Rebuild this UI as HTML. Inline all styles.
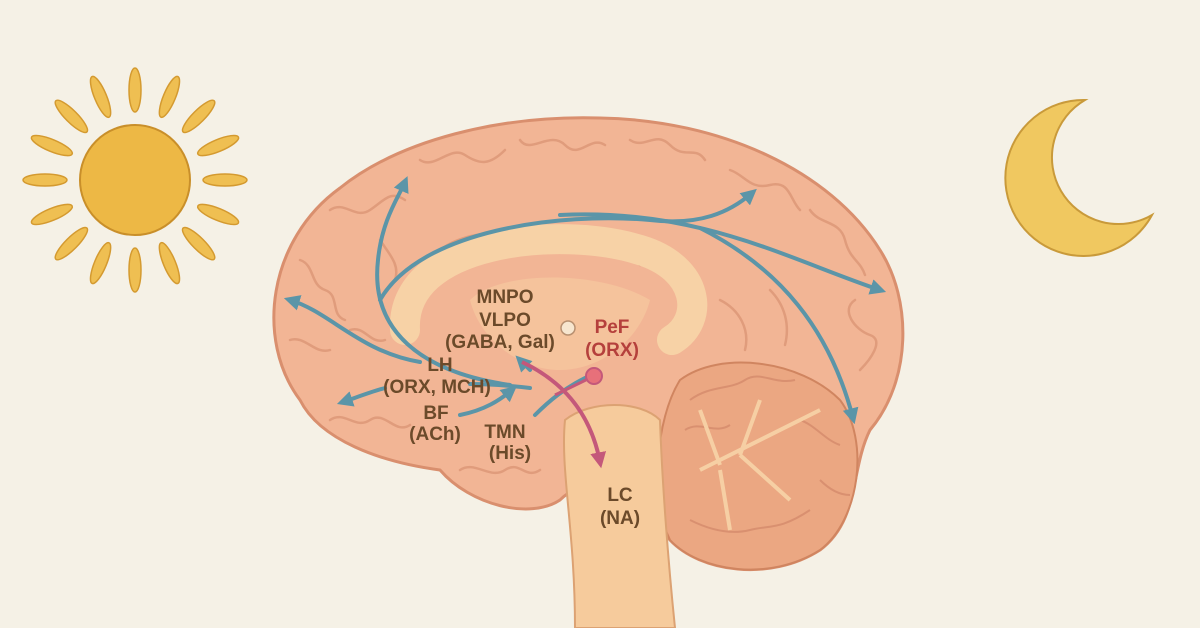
<!DOCTYPE html>
<html><head><meta charset="utf-8"><style>
html,body{margin:0;padding:0;background:#f5f1e6;}
svg{display:block}
text{font-family:"Liberation Sans",sans-serif;font-weight:bold;font-size:19px;fill:#6b4a2a;text-anchor:middle}
</style></head><body>
<svg width="1200" height="628" viewBox="0 0 1200 628" xmlns="http://www.w3.org/2000/svg">
<defs>
<marker id="ab" viewBox="0 0 10 10" refX="6" refY="5" markerWidth="4" markerHeight="4" orient="auto"><path d="M0,0 L10,5 L0,10 Z" fill="#5b95a8"/></marker>
<marker id="ar" viewBox="0 0 10 10" refX="6" refY="5" markerWidth="4" markerHeight="4" orient="auto"><path d="M0,0 L10,5 L0,10 Z" fill="#c4587a"/></marker>
</defs>
<rect width="1200" height="628" fill="#f5f1e6"/>
<!-- sun -->
<g transform="translate(135,180)">
<g fill="#efbf52" stroke="#d49a30" stroke-width="1.5">
<ellipse cx="0" cy="-90" rx="6" ry="22"/><ellipse cx="0" cy="-90" rx="6" ry="22" transform="rotate(22.5)"/>
<ellipse cx="0" cy="-90" rx="6" ry="22" transform="rotate(45)"/><ellipse cx="0" cy="-90" rx="6" ry="22" transform="rotate(67.5)"/>
<ellipse cx="0" cy="-90" rx="6" ry="22" transform="rotate(90)"/><ellipse cx="0" cy="-90" rx="6" ry="22" transform="rotate(112.5)"/>
<ellipse cx="0" cy="-90" rx="6" ry="22" transform="rotate(135)"/><ellipse cx="0" cy="-90" rx="6" ry="22" transform="rotate(157.5)"/>
<ellipse cx="0" cy="-90" rx="6" ry="22" transform="rotate(180)"/><ellipse cx="0" cy="-90" rx="6" ry="22" transform="rotate(202.5)"/>
<ellipse cx="0" cy="-90" rx="6" ry="22" transform="rotate(225)"/><ellipse cx="0" cy="-90" rx="6" ry="22" transform="rotate(247.5)"/>
<ellipse cx="0" cy="-90" rx="6" ry="22" transform="rotate(270)"/><ellipse cx="0" cy="-90" rx="6" ry="22" transform="rotate(292.5)"/>
<ellipse cx="0" cy="-90" rx="6" ry="22" transform="rotate(315)"/><ellipse cx="0" cy="-90" rx="6" ry="22" transform="rotate(337.5)"/>
</g>
<circle r="55" fill="#edb845" stroke="#c98f2a" stroke-width="2"/>
</g>
<!-- moon -->
<path d="M1085,100 A78,78 0 1,0 1152,215 A64,64 0 1,1 1085,100 Z" fill="#f0c860" stroke="#c99a3a" stroke-width="2"/>
<!-- brain -->
<path d="M300,400 C255,340 268,240 340,188 C400,140 500,115 600,118 C720,120 830,170 880,250 C912,300 912,380 870,430 C850,470 860,520 820,550 C770,582 700,572 670,540 L640,500 C610,480 580,480 560,500 C530,520 470,505 440,470 C380,462 320,440 300,400 Z" fill="#f2b595" stroke="#d98f6e" stroke-width="3"/>
<!-- gyri texture -->
<g fill="none" stroke="#e09c7c" stroke-width="2.5" stroke-linecap="round">
<path d="M330,210 c15,-10 25,10 40,0 s20,-20 35,-10"/>
<path d="M420,160 c15,10 30,-15 45,-5 s25,10 40,-5"/>
<path d="M520,140 c10,15 30,-10 45,5 s25,-10 40,0"/>
<path d="M630,140 c15,10 25,-10 40,5 s25,0 35,15"/>
<path d="M730,170 c15,5 20,20 40,15 s20,15 30,25"/>
<path d="M810,210 c10,15 30,10 35,30 s15,20 20,35"/>
<path d="M855,300 c-15,10 0,30 15,35 s0,25 -10,35"/>
<path d="M300,260 c15,5 10,25 25,30 s5,25 20,30"/>
<path d="M290,340 c15,-5 25,15 40,10"/>
<path d="M330,420 c15,-10 25,10 40,0 s25,15 40,5"/>
<path d="M460,470 c15,-10 30,10 45,0 s20,10 35,0"/>
<path d="M440,250 c20,-15 50,-20 80,-15 M560,240 c30,0 60,10 80,25"/>
<path d="M720,300 c20,10 30,30 25,50 M770,290 c15,15 20,35 15,55"/>
<path d="M350,330 c15,-5 20,15 35,10 M380,240 c10,15 20,25 15,40"/>
</g>
<!-- cerebellum -->
<path d="M680,380 C720,350 800,360 840,400 C870,440 860,520 820,550 C770,582 700,572 670,540 C650,500 655,420 680,380 Z" fill="#eba782" stroke="#d08560" stroke-width="2"/>
<g fill="none" stroke="#d99070" stroke-width="2">
<path d="M690,400 c20,-15 40,-10 55,-20 s30,5 50,0 M685,430 c15,-10 30,5 45,-5 M800,420 c15,5 25,20 40,25 M690,520 c20,10 40,15 60,10 s30,0 60,-20 M820,480 c10,10 20,15 30,15"/>
</g>
<g fill="none" stroke="#f6cfa4" stroke-width="4"><path d="M700,470 C740,450 780,430 820,410 M740,455 L760,400 M740,455 L790,500 M720,465 L700,410 M720,470 L730,530"/></g>
<!-- corpus callosum & inner -->
<path d="M405,330 C400,240 560,225 640,250 C700,268 705,320 672,340" fill="none" stroke="#f7d2a6" stroke-width="30" stroke-linecap="round"/>
<path d="M470,300 C500,270 600,270 650,300 C640,340 600,370 560,370 C520,370 480,340 470,300 Z" fill="#f5c39c"/>
<!-- brainstem -->
<path d="M565,420 C560,470 575,530 575,628 L675,628 C668,560 662,480 660,420 C640,400 590,400 565,420 Z" fill="#f6cb9c" stroke="#dca273" stroke-width="2"/>
<!-- blue arrows -->
<g fill="none" stroke="#5b95a8" stroke-width="4" stroke-linecap="round">
<path d="M510,385 C420,372 370,330 378,260 C382,220 398,198 405,182" marker-end="url(#ab)"/>
<path d="M420,362 C360,352 330,312 290,300" marker-end="url(#ab)"/>
<path d="M380,300 C420,230 560,212 650,220 C700,226 730,212 752,193" marker-end="url(#ab)"/>
<path d="M560,215 C700,208 790,260 880,290" marker-end="url(#ab)"/>
<path d="M700,228 C780,268 830,330 853,418" marker-end="url(#ab)"/>
<path d="M385,388 C370,392 355,398 343,402" marker-end="url(#ab)"/>
<path d="M470,384 C490,384 505,385 530,388"/>
<path d="M460,415 C485,410 500,400 512,390" marker-end="url(#ab)"/>
<path d="M535,415 C550,400 565,388 585,378"/>
<path d="M530,370 L520,360" marker-end="url(#ab)"/>
</g>
<!-- red -->
<path d="M522,362 C560,380 590,410 600,462" fill="none" stroke="#c4587a" stroke-width="4" marker-end="url(#ar)"/>
<path d="M555,395 L590,378" stroke="#c4587a" stroke-width="3"/>
<circle cx="594" cy="376" r="8" fill="#e7707a" stroke="#c4587a" stroke-width="2"/>
<circle cx="568" cy="328" r="7" fill="#f7e6cf" stroke="#b89070" stroke-width="1.5"/>
<!-- labels -->
<text x="505" y="303">MNPO</text>
<text x="505" y="326">VLPO</text>
<text x="500" y="348">(GABA, Gal)</text>
<text x="440" y="371">LH</text>
<text x="437" y="393">(ORX, MCH)</text>
<text x="436" y="419">BF</text>
<text x="435" y="440">(ACh)</text>
<text x="505" y="438">TMN</text>
<text x="510" y="459">(His)</text>
<text x="612" y="333" style="fill:#b5403c">PeF</text>
<text x="612" y="356" style="fill:#b5403c">(ORX)</text>
<text x="620" y="501">LC</text>
<text x="620" y="524">(NA)</text>
</svg>
</body></html>
